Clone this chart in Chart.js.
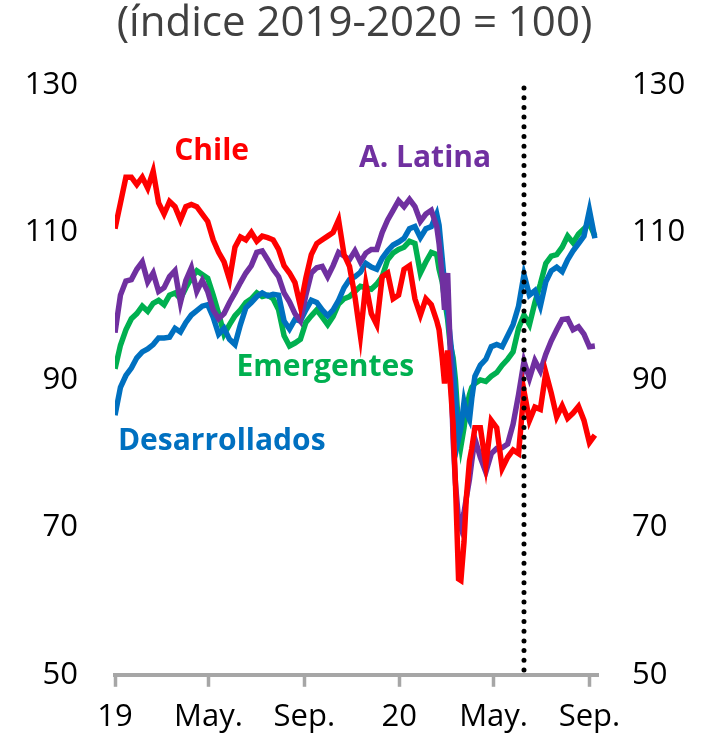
<!DOCTYPE html>
<html>
<head>
<meta charset="utf-8">
<script src="https://cdn.jsdelivr.net/npm/chart.js@4.4.0/dist/chart.umd.min.js"></script>
<style>
  body { margin: 0; background: #fff; }
  .wrap { width: 715px; height: 748px; position: relative; }
</style>
</head>
<body>
<div class="wrap"><canvas id="myChart"></canvas></div>
<script>
// days since 1 Jan 2019
const days = [0,7,14,21,28,35,42,49,56,63,70,77,84,91,98,105,112,119,126,133,140,147,154,161,168,175,182,189,196,203,
  210,217,224,231,238,245,252,259,266,273,280,287,294,301,308,315,322,329,336,343,350,357,364,371,378,385,392,399,406,
  413,416,420,423,427,430,434,437,441,444,448,451,455,458,462,
  469,476,483,490,497,504,511,518,525,532,539,546,553,560,567,574,581,588,595,602,609,616];

const chile = [110.5,114,117.5,117.5,116.5,117.5,116,118.3,114,112.5,114.2,113.5,111.7,113.5,113.8,113.5,112.5,111.5,109,107.3,
  106,103.6,108,109.4,109,110,108.8,109.5,109.3,109,107.7,105.5,104.5,103.2,100,103.8,107,108.5,109,109.5,
  110,111.7,107,105.4,101.3,96,103,99,97.5,104,104.5,101,101.5,105,105.5,101,98.8,101,100.2,
  98,96.8,93,89.5,94,90,84,76,63,62.8,68,74,79,80.7,83.5,
  83.5,78.5,84.5,83.5,78,79.5,80.5,80,88.5,84.5,86.3,86,91,88.2,85,86.5,84.8,85.5,86.4,84.5,81.5,82.5];

const latina = [96.4,101.5,103.4,103.6,105,106,103.3,104.5,102,102.5,104,104.8,100.5,103.5,105.2,102,103.5,102,99.5,98.3,
  99,100.5,101.8,103.2,104.5,105.5,107.3,107.5,106.3,105,104,101.8,100.6,99,98,101.5,104.5,105.2,105.4,104,
  105.5,107.3,106.8,106.3,107.5,106,107.2,107.7,107.7,110,111.7,113,114.3,113.5,114.5,113.5,111.5,112.5,113,
  110.8,108.5,104,99.5,104.5,95,82,76,71,70,72,74,76.5,79,82,
  79.5,77.5,80,80.7,80.8,81.3,84,88,92.5,90.2,92.6,91.2,93.5,95.3,96.8,98.2,98.3,96.8,97.2,96.2,94.5,94.6];

const emergentes = [91.5,94.7,96.8,98.3,99,100,99.3,100.4,100.8,100.2,101.5,101.8,101,102.5,103.8,104.8,104.3,103.8,101.5,99,
  96.2,97.5,98.7,99.5,100.5,101,101.8,101.3,101.5,101,99.5,96,94.6,95,95.5,97.8,98.7,99.5,98.5,97.5,
  98.6,100.3,101,101.3,102,102.7,102.5,102.3,103,104,106.3,107.2,107.7,108,108.8,108.5,104.5,106,107.3,
  107,105,103.3,101,98.2,95,93,90,83.5,81,83.5,86,88,89,89.5,
  90,89.8,90.5,91,92,92.8,93.8,97,98.8,97.5,100.5,103,105.8,106.8,107,108,109.5,108.6,109.8,110.5,111.2,109.5];

const desarrollados = [85.2,89,90.6,91.6,93,93.8,94.2,94.8,95.7,95.7,95.8,97,96.5,97.8,98.8,99.4,100,100.2,98.5,96.2,
  97,95.5,94.8,97.5,99.8,100.5,101.3,101.8,101.4,101.6,101.5,98,96.9,98.2,98,99.5,100.8,100.5,99.5,98.7,
  99.5,100.8,102.5,103.6,104,104.6,105.8,105.3,105,106.5,107.5,108.3,108.7,109.2,110.5,110.8,109.3,110.5,110.8,
  112.5,111,106.5,103,99.2,96,92,88,82,83.5,87,85.5,84.6,87.5,90.5,
  92,92.8,94.5,94.8,94.5,96,97.5,100,104.3,101.5,102.1,100,103.3,104.8,105.3,104.7,106.3,107.5,108.5,109.5,113,109.2];

const tickDays = [0, 120, 243, 365, 486, 609];
const tickLabels = ['19', 'May.', 'Sep.', '20', 'May.', 'Sep.'];
const markerDay = 525; // línea punteada

const seriesNames = ['Chile', 'A. Latina', 'Emergentes', 'Desarrollados'];
const seriesColors = ['#ff0000', '#7030a0', '#00b050', '#0070c0'];
// label anchors in data units (day, index)
const labelDays = [124, 398, 270, 137];
const labelVals = [121.0, 120.0, 91.7, 81.6];

Chart.defaults.font.family = "'Open Sans', sans-serif";
Chart.defaults.color = '#000';

const toPoints = (vals) => days.map((d, i) => ({ x: d, y: vals[i] }));

const extras = {
  id: 'extras',
  afterDatasetsDraw(chart) {
    const { ctx, chartArea, scales } = chart;
    const xs = scales.x, ys = scales.y;
    // dotted vertical line
    const mx = xs.getPixelForValue(markerDay);
    ctx.save();
    ctx.strokeStyle = '#000';
    ctx.lineWidth = 5;
    ctx.lineCap = 'round';
    ctx.setLineDash([0, 9.7]);
    ctx.beginPath();
    ctx.moveTo(mx, ys.getPixelForValue(130) + 3);
    ctx.lineTo(mx, ys.getPixelForValue(50));
    ctx.stroke();
    ctx.restore();

    // series labels
    ctx.save();
    ctx.font = "bold 30px 'Open Sans', sans-serif";
    ctx.textAlign = 'center';
    ctx.textBaseline = 'middle';
    seriesNames.forEach((name, i) => {
      ctx.fillStyle = seriesColors[i];
      ctx.fillText(name, xs.getPixelForValue(labelDays[i]), ys.getPixelForValue(labelVals[i]));
    });
    ctx.restore();

    // title
    ctx.save();
    ctx.font = "42px 'Open Sans', sans-serif";
    ctx.fillStyle = '#404040';
    ctx.textAlign = 'center';
    ctx.textBaseline = 'middle';
    ctx.fillText('(índice 2019-2020 = 100)', (chartArea.left + chartArea.right) / 2 - 2, 24);
    ctx.restore();
  }
};

const yTickOpts = {
  font: { size: 31 },
  color: '#000',
  stepSize: 20
};

const ctx = document.getElementById('myChart').getContext('2d');
const myChart = new Chart(ctx, {
  type: 'line',
  data: {
    datasets: [chile, latina, desarrollados, emergentes].map((vals, i) => {
      const idx = [0, 1, 3, 2][i];
      return {
        label: seriesNames[idx],
        data: toPoints(vals),
        borderColor: seriesColors[idx],
        borderWidth: 5.5,
        pointRadius: 0,
        tension: 0,
        fill: false
      };
    })
  },
  options: {
    responsive: true,
    maintainAspectRatio: false,
    animation: false,
    layout: { padding: { top: 85, bottom: 0, left: 0, right: 0 } },
    plugins: {
      legend: { display: false },
      tooltip: { enabled: false }
    },
    scales: {
      x: {
        type: 'linear',
        min: 0,
        max: 620,
        afterBuildTicks: (axis) => { axis.ticks = tickDays.map(v => ({ value: v })); },
        ticks: {
          font: { size: 31 },
          color: '#000',
          padding: 12,
          maxRotation: 0,
          autoSkip: false,
          callback: (value) => tickLabels[tickDays.indexOf(value)]
        },
        grid: {
          drawOnChartArea: false,
          drawTicks: true,
          tickLength: 12,
          tickWidth: 3.5,
          color: '#a6a6a6'
        },
        border: { display: true, color: '#a6a6a6', width: 4 }
      },
      y: {
        position: 'left',
        min: 50,
        max: 130,
        ticks: { ...yTickOpts, padding: 37 },
        grid: { display: false, drawTicks: false },
        border: { display: false },
        afterFit: (scale) => { scale.width = 115; }
      },
      y2: {
        position: 'right',
        display: true,
        min: 50,
        max: 130,
        ticks: { ...yTickOpts, padding: 34 },
        grid: { display: false, drawTicks: false },
        border: { display: false },
        afterFit: (scale) => { scale.width = 117; }
      }
    }
  },
  plugins: [extras]
});
</script>
</body>
</html>
